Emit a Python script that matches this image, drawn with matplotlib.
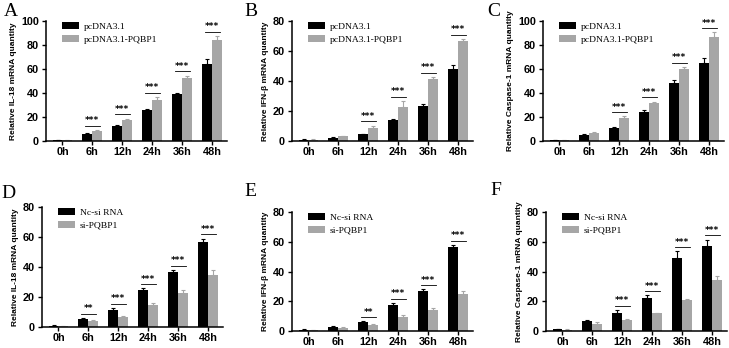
import matplotlib
matplotlib.use("Agg")
import matplotlib.pyplot as plt
import numpy as np

times = ["0h", "6h", "12h", "24h", "36h", "48h"]

# top row: pcDNA3.1 vs pcDNA3.1-PQBP1
il18_ctrl = [1.0, 6.0, 12.5, 25.5, 39.0, 64.0]
il18_ctrl_err = [0.2, 0.7, 1.0, 1.0, 1.0, 4.0]
il18_oe = [0.8, 8.5, 17.5, 34.5, 52.5, 84.5]
il18_oe_err = [0.2, 0.5, 1.2, 2.0, 2.0, 3.0]
il18_oe_sig = ["", "***", "***", "***", "***", "***"]

ifnb_ctrl = [1.0, 2.3, 4.5, 14.0, 23.5, 48.0]
ifnb_ctrl_err = [0.2, 0.3, 0.5, 0.8, 1.3, 2.5]
ifnb_oe = [1.0, 3.2, 9.0, 23.0, 41.5, 66.5]
ifnb_oe_err = [0.3, 0.3, 1.3, 3.5, 1.3, 1.5]
ifnb_oe_sig = ["", "", "***", "***", "***", "***"]

casp_ctrl = [1.0, 5.2, 10.5, 24.5, 48.0, 65.0]
casp_ctrl_err = [0.2, 0.8, 1.5, 1.3, 2.5, 4.0]
casp_oe = [0.8, 6.8, 19.0, 31.5, 60.0, 87.0]
casp_oe_err = [0.2, 1.0, 1.5, 1.3, 1.5, 3.5]
casp_oe_sig = ["", "", "***", "***", "***", "***"]

# bottom row: Nc-si RNA vs si-PQBP1
il18_nc = [1.0, 5.5, 11.5, 24.5, 37.0, 56.5]
il18_nc_err = [0.2, 0.3, 1.3, 1.2, 1.2, 2.5]
il18_si = [0.8, 4.3, 7.0, 14.5, 22.5, 34.5]
il18_si_err = [0.2, 0.3, 0.3, 1.7, 2.0, 3.5]
il18_si_sig = ["", "**", "***", "***", "***", "***"]

ifnb_nc = [0.9, 3.0, 6.0, 17.5, 27.0, 56.5]
ifnb_nc_err = [0.2, 0.2, 0.5, 1.3, 1.0, 1.5]
ifnb_si = [0.7, 2.2, 4.0, 9.3, 14.3, 25.0]
ifnb_si_err = [0.2, 0.3, 0.5, 1.2, 1.3, 2.0]
ifnb_si_sig = ["", "", "**", "***", "***", "***"]

casp_nc = [1.2, 6.5, 12.0, 22.5, 49.0, 57.0]
casp_nc_err = [0.2, 0.6, 2.0, 1.5, 4.5, 4.5]
casp_si = [1.0, 5.0, 7.5, 12.0, 21.0, 34.5]
casp_si_err = [0.2, 1.2, 0.8, 0.4, 0.4, 2.5]
casp_si_sig = ["", "", "***", "***", "***", "***"]

BLACK = "#000000"
GREY = "#a6a6a6"

W, H = 729, 348
fig = plt.figure(figsize=(W / 100, H / 100), dpi=100)

# (letter, letter x/y px, axes left px, top px, bottom px, ylim, ylabel, legend labels, data)
panels = [
    ("A", 11, 11, 46, 21, 141, 100, "Relative IL-18 mRNA quantity", ("pcDNA3.1", "pcDNA3.1-PQBP1"),
     il18_ctrl, il18_ctrl_err, il18_oe, il18_oe_err, il18_oe_sig),
    ("B", 251, 11, 292, 21, 141, 80, "Relative IFN-β mRNA quantity", ("pcDNA3.1", "pcDNA3.1-PQBP1"),
     ifnb_ctrl, ifnb_ctrl_err, ifnb_oe, ifnb_oe_err, ifnb_oe_sig),
    ("C", 494, 11, 543, 21, 141, 100, "Relative Caspase-1 mRNA quantity", ("pcDNA3.1", "pcDNA3.1-PQBP1"),
     casp_ctrl, casp_ctrl_err, casp_oe, casp_oe_err, casp_oe_sig),
    ("D", 8, 194, 42, 207, 327, 80, "Relative IL-18 mRNA quantity", ("Nc-si RNA", "si-PQBP1"),
     il18_nc, il18_nc_err, il18_si, il18_si_err, il18_si_sig),
    ("E", 250, 191, 292, 212, 331, 80, "Relative IFN-β mRNA quantity", ("Nc-si RNA", "si-PQBP1"),
     ifnb_nc, ifnb_nc_err, ifnb_si, ifnb_si_err, ifnb_si_sig),
    ("F", 496, 190, 546, 212, 331, 80, "Relative Caspase-1 mRNA quantity", ("Nc-si RNA", "si-PQBP1"),
     casp_nc, casp_nc_err, casp_si, casp_si_err, casp_si_sig),
]

x = np.arange(len(times))
bw = 0.33
for (let, lx, ly, left, top, bot, ymax, ylab, labs, a, ae, b, be, sig) in panels:
    ax = fig.add_axes([left / W, 1 - bot / H, 181 / W, (bot - top) / H])
    ax.bar(x - bw / 2, a, bw, color=BLACK, label=labs[0],
           yerr=[np.zeros(len(a)), ae], error_kw=dict(ecolor=BLACK, elinewidth=0.8, capsize=1.5, capthick=0.8))
    ax.bar(x + bw / 2, b, bw, color=GREY, label=labs[1],
           yerr=[np.zeros(len(b)), be], error_kw=dict(ecolor=GREY, elinewidth=0.8, capsize=1.5, capthick=0.8))
    for i, s in enumerate(sig):
        if not s:
            continue
        yl = max(a[i] + ae[i], b[i] + be[i]) + ymax * 0.035
        ax.plot([i - 0.25, i + 0.25], [yl, yl], color="black", lw=0.6)
        ax.text(i, yl + ymax * 0.005, s, ha="center", va="bottom", fontsize=6.5, fontweight="bold")
    ax.set_xlim(-0.55, 5.5)
    ax.set_ylim(0, ymax)
    ax.set_yticks(np.arange(0, ymax + 1, 20))
    ax.set_xticks(x)
    ax.set_xticklabels(times)
    for t in ax.get_xticklabels() + ax.get_yticklabels():
        t.set_fontweight("bold")
        t.set_fontfamily("Liberation Sans")
    ax.tick_params(labelsize=7.8, width=1, length=3, pad=2)
    ax.tick_params(axis="x", pad=1)
    ax.spines["top"].set_visible(False)
    ax.spines["right"].set_visible(False)
    ax.spines["left"].set_linewidth(1.1)
    ax.spines["bottom"].set_linewidth(1.1)
    ax.set_ylabel(ylab, fontsize=6, fontweight="bold", family="Liberation Sans", labelpad=3)
    ax.legend(loc="upper left", bbox_to_anchor=(0.04, 1.06), frameon=False,
              prop=dict(family="Liberation Serif", size=6.8),
              handlelength=1.85, handleheight=0.75, handletextpad=0.5, labelspacing=0.4)
    fig.text(lx / W, 1 - ly / H, let, family="Liberation Serif", fontsize=14, ha="center", va="center")

fig.savefig("out.png", dpi=100)
